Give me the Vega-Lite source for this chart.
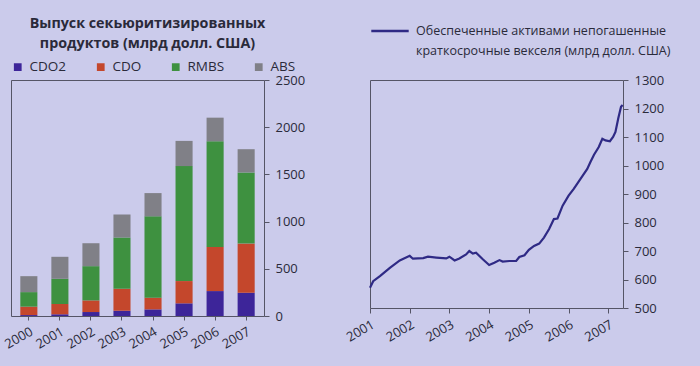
{
  "$schema": "https://vega.github.io/schema/vega-lite/v6.json",
  "background": "#cbcbeb",
  "padding": {"left": 2, "top": 10, "right": 29, "bottom": 19},
  "config": {
    "font": "Open Sans",
    "view": {"stroke": "#555566", "strokeWidth": 1},
    "axis": {"labelFont": "Open Sans", "labelColor": "#2a2a3a", "labelFontSize": 13, "tickColor": "#555566", "domainColor": "#555566", "grid": false},
    "legend": {"labelFont": "Open Sans", "labelColor": "#2a2a3a"},
    "style": {"guide-label": {"lineHeight": 20}}
  },
  "resolve": {"scale": {"color": "independent"}, "legend": {"color": "independent"}},
  "spacing": 37,
  "hconcat": [
    {
      "width": 253,
      "height": 236,
      "title": {
        "text": ["Выпуск секьюритизированных", "продуктов (млрд  долл. США)"],
        "font": "Open Sans",
        "fontSize": 14.3,
        "fontWeight": "bold",
        "color": "#2a2a3a",
        "anchor": "middle",
        "dx": 10,
        "lineHeight": 20,
        "offset": 9
      },
      "data": {
        "values": [
          {"year": "2000", "type": "CDO2", "v": 10},
          {"year": "2000", "type": "CDO", "v": 89},
          {"year": "2000", "type": "RMBS", "v": 154},
          {"year": "2000", "type": "ABS", "v": 169},
          {"year": "2001", "type": "CDO2", "v": 18},
          {"year": "2001", "type": "CDO", "v": 109},
          {"year": "2001", "type": "RMBS", "v": 267},
          {"year": "2001", "type": "ABS", "v": 233},
          {"year": "2002", "type": "CDO2", "v": 42},
          {"year": "2002", "type": "CDO", "v": 123},
          {"year": "2002", "type": "RMBS", "v": 363},
          {"year": "2002", "type": "ABS", "v": 243},
          {"year": "2003", "type": "CDO2", "v": 56},
          {"year": "2003", "type": "CDO", "v": 233},
          {"year": "2003", "type": "RMBS", "v": 542},
          {"year": "2003", "type": "ABS", "v": 243},
          {"year": "2004", "type": "CDO2", "v": 70},
          {"year": "2004", "type": "CDO", "v": 124},
          {"year": "2004", "type": "RMBS", "v": 862},
          {"year": "2004", "type": "ABS", "v": 246},
          {"year": "2005", "type": "CDO2", "v": 134},
          {"year": "2005", "type": "CDO", "v": 236},
          {"year": "2005", "type": "RMBS", "v": 1218},
          {"year": "2005", "type": "ABS", "v": 267},
          {"year": "2006", "type": "CDO2", "v": 264},
          {"year": "2006", "type": "CDO", "v": 468},
          {"year": "2006", "type": "RMBS", "v": 1119},
          {"year": "2006", "type": "ABS", "v": 250},
          {"year": "2007", "type": "CDO2", "v": 246},
          {"year": "2007", "type": "CDO", "v": 521},
          {"year": "2007", "type": "RMBS", "v": 754},
          {"year": "2007", "type": "ABS", "v": 246}
        ]
      },
      "transform": [
        {"calculate": "indexof(['CDO2','CDO','RMBS','ABS'], datum.type)", "as": "ord"}
      ],
      "mark": {"type": "bar"},
      "encoding": {
        "x": {
          "field": "year", "type": "ordinal",
          "scale": {"paddingInner": 0.45, "paddingOuter": 0.3},
          "axis": {"title": null, "labelAngle": -30, "labelAlign": "right", "labelBaseline": "top", "labelFontSize": 13, "tickSize": 4, "labelPadding": 5, "domain": false}
        },
        "y": {
          "field": "v", "type": "quantitative", "aggregate": "sum", "stack": "zero",
          "scale": {"domain": [0, 2500]},
          "axis": {"title": null, "orient": "right", "format": "d", "values": [0, 500, 1000, 1500, 2000, 2500], "tickSize": 5, "labelPadding": 6, "domain": false}
        },
        "color": {
          "field": "type", "type": "nominal",
          "scale": {"domain": ["CDO2", "CDO", "RMBS", "ABS"], "range": ["#3d2599", "#c4472c", "#3e9140", "#808087"]},
          "legend": {"title": null, "orient": "top", "direction": "horizontal", "symbolType": "square", "symbolSize": 60, "labelFontSize": 13.5, "labelOffset": 5, "columnPadding": 27, "offset": 6, "padding": 0}
        },
        "order": {"field": "ord", "type": "quantitative"}
      }
    },
    {
      "width": 253,
      "height": 228,
      "data": {
        "values": [
          {"t": 2001.0, "v": 571, "s": "a"},
          {"t": 2001.08, "v": 594, "s": "a"},
          {"t": 2001.25, "v": 612, "s": "a"},
          {"t": 2001.5, "v": 641, "s": "a"},
          {"t": 2001.75, "v": 667, "s": "a"},
          {"t": 2002.0, "v": 683, "s": "a"},
          {"t": 2002.08, "v": 673, "s": "a"},
          {"t": 2002.34, "v": 675, "s": "a"},
          {"t": 2002.46, "v": 680, "s": "a"},
          {"t": 2002.67, "v": 677, "s": "a"},
          {"t": 2002.92, "v": 674, "s": "a"},
          {"t": 2003.0, "v": 680, "s": "a"},
          {"t": 2003.13, "v": 667, "s": "a"},
          {"t": 2003.25, "v": 674, "s": "a"},
          {"t": 2003.42, "v": 688, "s": "a"},
          {"t": 2003.5, "v": 700, "s": "a"},
          {"t": 2003.59, "v": 691, "s": "a"},
          {"t": 2003.67, "v": 694, "s": "a"},
          {"t": 2003.84, "v": 671, "s": "a"},
          {"t": 2004.0, "v": 651, "s": "a"},
          {"t": 2004.13, "v": 659, "s": "a"},
          {"t": 2004.26, "v": 668, "s": "a"},
          {"t": 2004.34, "v": 663, "s": "a"},
          {"t": 2004.51, "v": 665, "s": "a"},
          {"t": 2004.68, "v": 665, "s": "a"},
          {"t": 2004.76, "v": 679, "s": "a"},
          {"t": 2004.89, "v": 685, "s": "a"},
          {"t": 2005.0, "v": 704, "s": "a"},
          {"t": 2005.13, "v": 718, "s": "a"},
          {"t": 2005.26, "v": 726, "s": "a"},
          {"t": 2005.38, "v": 747, "s": "a"},
          {"t": 2005.51, "v": 777, "s": "a"},
          {"t": 2005.63, "v": 812, "s": "a"},
          {"t": 2005.72, "v": 814, "s": "a"},
          {"t": 2005.85, "v": 859, "s": "a"},
          {"t": 2006.0, "v": 894, "s": "a"},
          {"t": 2006.13, "v": 918, "s": "a"},
          {"t": 2006.3, "v": 953, "s": "a"},
          {"t": 2006.47, "v": 988, "s": "a"},
          {"t": 2006.55, "v": 1012, "s": "a"},
          {"t": 2006.64, "v": 1038, "s": "a"},
          {"t": 2006.76, "v": 1065, "s": "a"},
          {"t": 2006.85, "v": 1094, "s": "a"},
          {"t": 2006.93, "v": 1088, "s": "a"},
          {"t": 2007.04, "v": 1085, "s": "a"},
          {"t": 2007.12, "v": 1100, "s": "a"},
          {"t": 2007.18, "v": 1118, "s": "a"},
          {"t": 2007.25, "v": 1165, "s": "a"},
          {"t": 2007.32, "v": 1206, "s": "a"},
          {"t": 2007.36, "v": 1212, "s": "a"}
        ]
      },
      "mark": {"type": "line", "strokeWidth": 2.2, "interpolate": "linear"},
      "encoding": {
        "x": {
          "field": "t", "type": "quantitative",
          "scale": {"domain": [2001, 2007.37], "nice": false, "zero": false},
          "axis": {"title": null, "values": [2001, 2002, 2003, 2004, 2005, 2006, 2007], "format": "d", "labelAngle": -30, "labelAlign": "right", "labelBaseline": "top", "labelFontSize": 13, "tickSize": 5, "labelPadding": 5, "domain": false, "labelFlush": false}
        },
        "y": {
          "field": "v", "type": "quantitative",
          "scale": {"domain": [500, 1300], "nice": false, "zero": false},
          "axis": {"title": null, "orient": "right", "format": "d", "values": [500, 600, 700, 800, 900, 1000, 1100, 1200, 1300], "tickSize": 5, "labelPadding": 6, "domain": false, "labelFlush": false}
        },
        "color": {
          "field": "s", "type": "nominal",
          "scale": {"range": ["#2f2a85"]},
          "legend": {
            "title": null, "orient": "top", "symbolType": "stroke", "symbolSize": 1400, "symbolStrokeWidth": 2.5,
            "labelExpr": "['Обеспеченные активами непогашенные', 'краткосрочные векселя (млрд долл. США)']",
            "labelFontSize": 12.5, "labelLimit": 400, "labelOffset": 6, "offset": 22, "padding": 0
          }
        }
      }
    }
  ]
}
